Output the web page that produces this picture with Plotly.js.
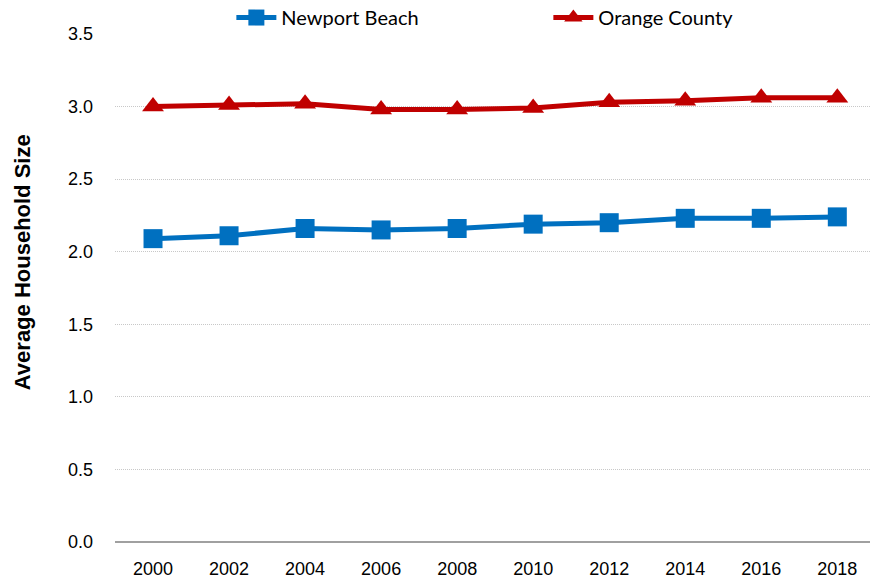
<!DOCTYPE html>
<html>
<head>
<meta charset="utf-8">
<script src="https://cdn.plot.ly/plotly-3.0.1.min.js"></script>
<style>html,body{margin:0;padding:0;background:#fff;}#chart{width:870px;height:584px;}</style>
</head>
<body>
<div id="chart"></div>
<script>
const years = ["2000","2002","2004","2006","2008","2010","2012","2014","2016","2018"];
const newportBeach = [2.09, 2.11, 2.16, 2.15, 2.16, 2.19, 2.20, 2.23, 2.23, 2.24];
const orangeCounty = [3.00, 3.01, 3.02, 2.98, 2.98, 2.99, 3.03, 3.04, 3.06, 3.06];
const yTicks = [0, 0.5, 1.0, 1.5, 2.0, 2.5, 3.0, 3.5];
const yTickText = ["0.0","0.5","1.0","1.5","2.0","2.5","3.0","3.5"];
const yTitle = "Average Household Size";

const tickFont = {family: "'Liberation Sans', Arial, sans-serif", size: 18, color: "#000"};

const data = [
  {x: years, y: newportBeach, name: "Newport Beach", type: "scatter", mode: "lines+markers",
   line: {color: "#0070C0", width: 5}, marker: {symbol: "square", size: 19, color: "#0070C0"}},
  {x: years, y: orangeCounty, name: "Orange County", type: "scatter", mode: "lines+markers",
   line: {color: "#C00000", width: 5}, marker: {symbol: "triangle-up", size: 19, color: "#C00000"}}
];

const layout = {
  width: 870, height: 584,
  margin: {l: 115, r: 0, t: 34, b: 42, autoexpand: false},
  paper_bgcolor: "#fff", plot_bgcolor: "#fff",
  showlegend: true,
  legend: {orientation: "h", x: 0.574, xanchor: "center", y: 0.994, yanchor: "bottom",
    font: {family: "Lato, 'Noto Sans', sans-serif", size: 20, color: "#000"},
    entrywidth: 262, itemwidth: 40, bgcolor: "rgba(0,0,0,0)"},
  xaxis: {type: "category", range: [-0.5, 9.43], showgrid: false, zeroline: false,
    showline: false, ticks: "", tickfont: tickFont, ticklabelstandoff: 14, fixedrange: true},
  yaxis: {range: [0, 3.5], tickvals: yTicks, ticktext: yTickText, showgrid: true,
    gridcolor: "#c8c8c8", griddash: "1px,1px", gridwidth: 1, zeroline: true, zerolinecolor: "#a0a0a0",
    zerolinewidth: 2, showline: false, ticks: "", ticklabelstandoff: 21, tickfont: tickFont,
    fixedrange: true},
  annotations: [{text: yTitle, xref: "paper", yref: "paper", x: -0.123, y: 0.551,
    xanchor: "center", yanchor: "middle", textangle: -90, showarrow: false,
    font: {family: "'Liberation Sans', Arial, sans-serif", size: 22, color: "#000", weight: "bold"}}]
};

Plotly.newPlot("chart", data, layout, {displayModeBar: false, staticPlot: true});
</script>
</body>
</html>
